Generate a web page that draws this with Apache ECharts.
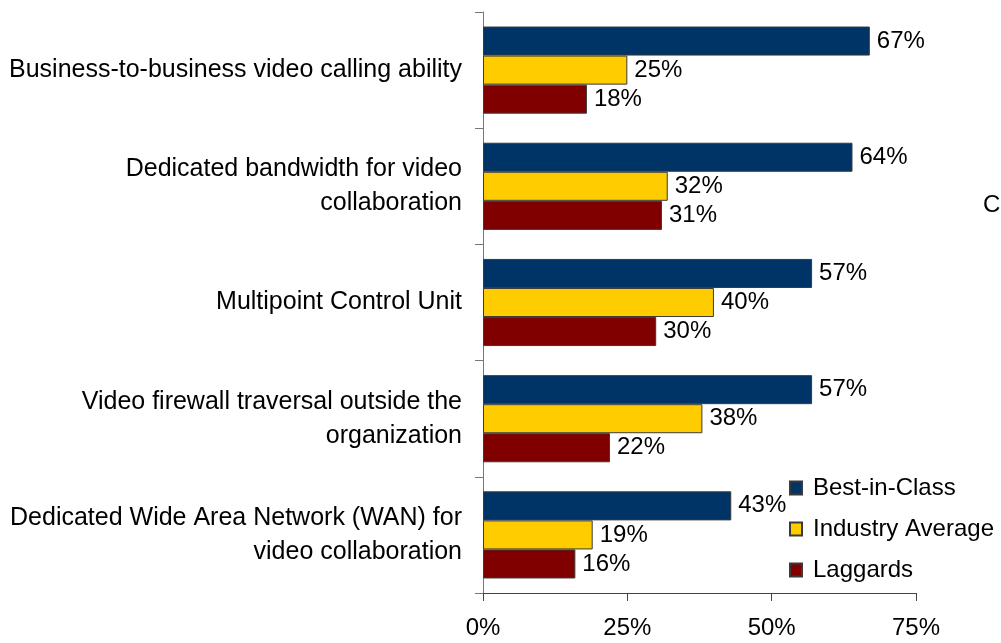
<!DOCTYPE html>
<html>
<head>
<meta charset="utf-8">
<script src="https://cdn.jsdelivr.net/npm/echarts@6/dist/echarts.min.js"></script>
<style>
  html, body { margin: 0; padding: 0; background: #fff; }
  #chart { width: 1001px; height: 643px; }
</style>
</head>
<body>
<div id="chart"></div>
<script>
// Capabilities, top to bottom
const categories = [
  'Business-to-business video calling ability',
  'Dedicated bandwidth for video\ncollaboration',
  'Multipoint Control Unit',
  'Video firewall traversal outside the\norganization',
  'Dedicated Wide Area Network (WAN) for\nvideo collaboration'
];
const seriesNames = ['Best-in-Class', 'Industry Average', 'Laggards'];
const bestInClass = [67, 64, 57, 57, 43];
const industryAverage = [25, 32, 40, 38, 19];
const laggards = [18, 31, 30, 22, 16];
const xTicks = [0, 25, 50, 75];

const colors = ['#003366', '#FFCC00', '#800000'];
const font = '"Liberation Sans", Arial, sans-serif';

const chart = echarts.init(document.getElementById('chart'), null, { renderer: 'canvas' });

function barSeries(name, data, color) {
  return {
    name: name,
    type: 'bar',
    data: data,
    barGap: '0%',
    barCategoryGap: '25%',
    itemStyle: { color: color, borderColor: '#3a3a3a', borderWidth: 1 },
    label: {
      show: true,
      position: 'right',
      distance: 7,
      formatter: '{c}%',
      color: '#000',
      fontFamily: font,
      fontSize: 24
    },
    emphasis: { disabled: true }
  };
}

chart.setOption({
  animation: false,
  backgroundColor: '#fff',
  grid: { left: 483, right: 85, top: 12, bottom: 50, containLabel: false },
  xAxis: {
    type: 'value',
    min: xTicks[0],
    max: xTicks[xTicks.length - 1],
    interval: xTicks[1] - xTicks[0],
    axisLine: { show: true, lineStyle: { color: '#444', width: 1 } },
    axisTick: { show: true, length: 8, lineStyle: { color: '#444' } },
    splitLine: { show: false },
    axisLabel: {
      formatter: '{value}%',
      margin: 23,
      color: '#000',
      fontFamily: font,
      fontSize: 24
    }
  },
  yAxis: {
    type: 'category',
    data: categories,
    inverse: true,
    axisLine: { show: true, lineStyle: { color: '#777', width: 1 } },
    axisTick: { show: true, length: 8, lineStyle: { color: '#777' } },
    axisLabel: {
      margin: 21,
      color: '#000',
      fontFamily: font,
      fontSize: 25,
      lineHeight: 34,
      align: 'right'
    }
  },
  legend: {
    orient: 'vertical',
    left: 789,
    top: 476,
    padding: 0,
    itemWidth: 12,
    itemHeight: 13,
    itemGap: 17,
    icon: 'rect',
    data: seriesNames,
    textStyle: { color: '#000', fontFamily: font, fontSize: 24, padding: [0, 0, 0, 6] }
  },
  graphic: [{
    type: 'text',
    left: 983,
    top: 193,
    style: { text: 'C', fill: '#000', font: '24px ' + font }
  }],
  series: [
    barSeries(seriesNames[0], bestInClass, colors[0]),
    barSeries(seriesNames[1], industryAverage, colors[1]),
    barSeries(seriesNames[2], laggards, colors[2])
  ]
});
</script>
</body>
</html>
